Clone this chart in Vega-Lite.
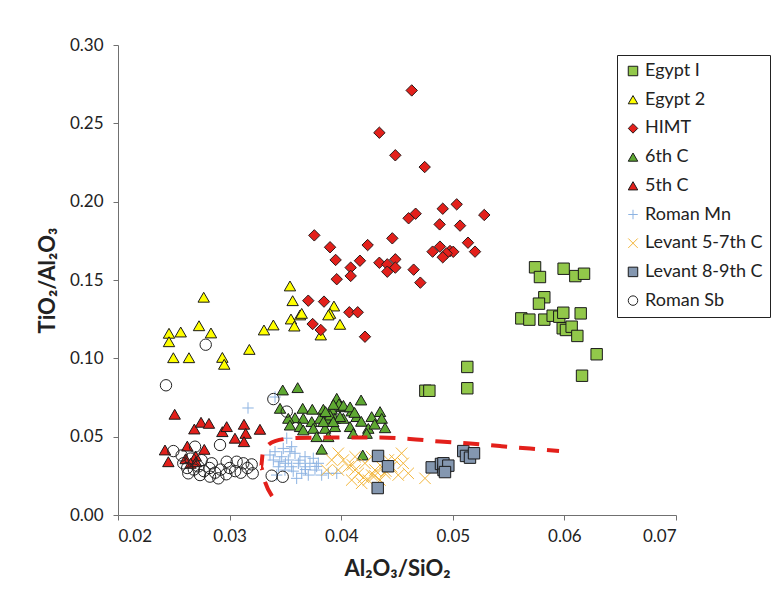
{
  "$schema": "https://vega.github.io/schema/vega-lite/v6.json",
  "autosize": "none",
  "width": 558,
  "height": 470,
  "padding": {"left": 118, "top": 45, "right": 103, "bottom": 82},
  "background": "white",
  "config": {
    "font": "Lato",
    "view": {"stroke": null},
    "axis": {"grid": false, "domainColor": "#707070", "tickColor": "#707070", "tickSize": 5, "labelColor": "#222222", "labelFontSize": 17, "titleColor": "#222222", "titleFontSize": 22, "titleFontWeight": "bold", "labelFont": "Lato", "titleFont": "Lato"},
    "legend": {"labelFont": "Lato"}
  },
  "layer": [
    {
      "data": {"values": [
        {"g":"Egypt I","x":0.05737,"y":0.1581},{"g":"Egypt I","x":0.05781,"y":0.1519},{"g":"Egypt I","x":0.05993,"y":0.1572},{"g":"Egypt I","x":0.06098,"y":0.1525},{"g":"Egypt I","x":0.06176,"y":0.154},{"g":"Egypt I","x":0.0582,"y":0.139},{"g":"Egypt I","x":0.05772,"y":0.1349},{"g":"Egypt I","x":0.05614,"y":0.1255},{"g":"Egypt I","x":0.05686,"y":0.1247},{"g":"Egypt I","x":0.0582,"y":0.1247},{"g":"Egypt I","x":0.05895,"y":0.1272},{"g":"Egypt I","x":0.05954,"y":0.1266},{"g":"Egypt I","x":0.0599,"y":0.1291},{"g":"Egypt I","x":0.06146,"y":0.1287},{"g":"Egypt I","x":0.05985,"y":0.1192},{"g":"Egypt I","x":0.06014,"y":0.1181},{"g":"Egypt I","x":0.06065,"y":0.1202},{"g":"Egypt I","x":0.06116,"y":0.1143},{"g":"Egypt I","x":0.06289,"y":0.1026},{"g":"Egypt I","x":0.06158,"y":0.0889},{"g":"Egypt I","x":0.04754,"y":0.0793},{"g":"Egypt I","x":0.0479,"y":0.0793},{"g":"Egypt I","x":0.0513,"y":0.0809},{"g":"Egypt I","x":0.0513,"y":0.0945},
        {"g":"Egypt 2","x":0.02768,"y":0.139},{"g":"Egypt 2","x":0.02457,"y":0.116},{"g":"Egypt 2","x":0.02562,"y":0.1168},{"g":"Egypt 2","x":0.02726,"y":0.1208},{"g":"Egypt 2","x":0.02833,"y":0.1162},{"g":"Egypt 2","x":0.02457,"y":0.1106},{"g":"Egypt 2","x":0.02496,"y":0.1004},{"g":"Egypt 2","x":0.02636,"y":0.1004},{"g":"Egypt 2","x":0.02935,"y":0.1006},{"g":"Egypt 2","x":0.02952,"y":0.0962},{"g":"Egypt 2","x":0.03177,"y":0.1057},{"g":"Egypt 2","x":0.03308,"y":0.1181},{"g":"Egypt 2","x":0.03392,"y":0.1213},{"g":"Egypt 2","x":0.03541,"y":0.1462},{"g":"Egypt 2","x":0.03565,"y":0.1368},{"g":"Egypt 2","x":0.0355,"y":0.1251},{"g":"Egypt 2","x":0.0358,"y":0.1206},{"g":"Egypt 2","x":0.03631,"y":0.1277},{"g":"Egypt 2","x":0.03646,"y":0.1287},{"g":"Egypt 2","x":0.03935,"y":0.1334},{"g":"Egypt 2","x":0.039,"y":0.1287},{"g":"Egypt 2","x":0.03885,"y":0.1277},{"g":"Egypt 2","x":0.03989,"y":0.1217},{"g":"Egypt 2","x":0.03817,"y":0.1149},
        {"g":"HIMT","x":0.04632,"y":0.271},{"g":"HIMT","x":0.04342,"y":0.244},{"g":"HIMT","x":0.04485,"y":0.2296},{"g":"HIMT","x":0.04748,"y":0.2221},{"g":"HIMT","x":0.05035,"y":0.1983},{"g":"HIMT","x":0.0491,"y":0.1955},{"g":"HIMT","x":0.05282,"y":0.1915},{"g":"HIMT","x":0.04667,"y":0.1923},{"g":"HIMT","x":0.04604,"y":0.1894},{"g":"HIMT","x":0.04882,"y":0.1855},{"g":"HIMT","x":0.05065,"y":0.1847},{"g":"HIMT","x":0.03759,"y":0.1785},{"g":"HIMT","x":0.04458,"y":0.1766},{"g":"HIMT","x":0.05136,"y":0.1738},{"g":"HIMT","x":0.04237,"y":0.1723},{"g":"HIMT","x":0.039,"y":0.1709},{"g":"HIMT","x":0.04885,"y":0.1713},{"g":"HIMT","x":0.05199,"y":0.1681},{"g":"HIMT","x":0.04819,"y":0.1681},{"g":"HIMT","x":0.04975,"y":0.1685},{"g":"HIMT","x":0.05004,"y":0.168},{"g":"HIMT","x":0.04944,"y":0.167},{"g":"HIMT","x":0.0491,"y":0.1645},{"g":"HIMT","x":0.0395,"y":0.1628},{"g":"HIMT","x":0.04168,"y":0.1623},{"g":"HIMT","x":0.04342,"y":0.161},{"g":"HIMT","x":0.04413,"y":0.16},{"g":"HIMT","x":0.04485,"y":0.1632},{"g":"HIMT","x":0.04485,"y":0.1579},{"g":"HIMT","x":0.04413,"y":0.1553},{"g":"HIMT","x":0.04085,"y":0.1579},{"g":"HIMT","x":0.04085,"y":0.1526},{"g":"HIMT","x":0.0396,"y":0.1505},{"g":"HIMT","x":0.04649,"y":0.1566},{"g":"HIMT","x":0.04709,"y":0.1483},{"g":"HIMT","x":0.03705,"y":0.1368},{"g":"HIMT","x":0.03846,"y":0.1362},{"g":"HIMT","x":0.04073,"y":0.1294},{"g":"HIMT","x":0.04148,"y":0.1294},{"g":"HIMT","x":0.03744,"y":0.1219},{"g":"HIMT","x":0.03817,"y":0.1181},{"g":"HIMT","x":0.04213,"y":0.1138},
        {"g":"6th C","x":0.03476,"y":0.0798},{"g":"6th C","x":0.0361,"y":0.0813},{"g":"6th C","x":0.03452,"y":0.0681},{"g":"6th C","x":0.03655,"y":0.0681},{"g":"6th C","x":0.03741,"y":0.0675},{"g":"6th C","x":0.0384,"y":0.0675},{"g":"6th C","x":0.03915,"y":0.0675},{"g":"6th C","x":0.0396,"y":0.0745},{"g":"6th C","x":0.04004,"y":0.0691},{"g":"6th C","x":0.04094,"y":0.0664},{"g":"6th C","x":0.04178,"y":0.0734},{"g":"6th C","x":0.03586,"y":0.0621},{"g":"6th C","x":0.0366,"y":0.0617},{"g":"6th C","x":0.03736,"y":0.0596},{"g":"6th C","x":0.0381,"y":0.0617},{"g":"6th C","x":0.0387,"y":0.0617},{"g":"6th C","x":0.03944,"y":0.0617},{"g":"6th C","x":0.04019,"y":0.0617},{"g":"6th C","x":0.04138,"y":0.0628},{"g":"6th C","x":0.04273,"y":0.0628},{"g":"6th C","x":0.04348,"y":0.066},{"g":"6th C","x":0.04363,"y":0.0617},{"g":"6th C","x":0.03526,"y":0.0617},{"g":"6th C","x":0.03541,"y":0.0574},{"g":"6th C","x":0.03631,"y":0.0564},{"g":"6th C","x":0.0375,"y":0.0553},{"g":"6th C","x":0.03855,"y":0.0553},{"g":"6th C","x":0.03944,"y":0.0564},{"g":"6th C","x":0.04079,"y":0.0564},{"g":"6th C","x":0.04243,"y":0.0553},{"g":"6th C","x":0.04393,"y":0.0557},{"g":"6th C","x":0.03884,"y":0.05},{"g":"6th C","x":0.04108,"y":0.0521},{"g":"6th C","x":0.04228,"y":0.0521},{"g":"6th C","x":0.0378,"y":0.05},{"g":"6th C","x":0.0366,"y":0.0543},{"g":"6th C","x":0.039,"y":0.0638},{"g":"6th C","x":0.03989,"y":0.0628},{"g":"6th C","x":0.0384,"y":0.0596},{"g":"6th C","x":0.03929,"y":0.0596},{"g":"6th C","x":0.03825,"y":0.042},{"g":"6th C","x":0.04193,"y":0.0383},{"g":"6th C","x":0.0398,"y":0.071},{"g":"6th C","x":0.0402,"y":0.07},{"g":"6th C","x":0.0393,"y":0.0706},{"g":"6th C","x":0.0386,"y":0.066},{"g":"6th C","x":0.0408,"y":0.069},{"g":"6th C","x":0.0412,"y":0.0655},{"g":"6th C","x":0.0418,"y":0.0598},{"g":"6th C","x":0.043,"y":0.058},
        {"g":"5th C","x":0.02508,"y":0.0643},{"g":"5th C","x":0.02684,"y":0.0549},{"g":"5th C","x":0.02744,"y":0.0592},{"g":"5th C","x":0.02815,"y":0.0585},{"g":"5th C","x":0.02935,"y":0.0532},{"g":"5th C","x":0.02974,"y":0.0564},{"g":"5th C","x":0.03129,"y":0.0579},{"g":"5th C","x":0.03144,"y":0.0521},{"g":"5th C","x":0.03048,"y":0.049},{"g":"5th C","x":0.03129,"y":0.0468},{"g":"5th C","x":0.03272,"y":0.0547},{"g":"5th C","x":0.02421,"y":0.0415},{"g":"5th C","x":0.02451,"y":0.034},{"g":"5th C","x":0.02621,"y":0.044},{"g":"5th C","x":0.02696,"y":0.0377},{"g":"5th C","x":0.02773,"y":0.0419},{"g":"5th C","x":0.02606,"y":0.0359},{"g":"5th C","x":0.0265,"y":0.033},{"g":"5th C","x":0.027,"y":0.034},
        {"g":"Roman Mn","x":0.03165,"y":0.0683},{"g":"Roman Mn","x":0.03407,"y":0.0753},{"g":"Roman Mn","x":0.03512,"y":0.049},{"g":"Roman Mn","x":0.03362,"y":0.0383},{"g":"Roman Mn","x":0.03407,"y":0.0404},{"g":"Roman Mn","x":0.03467,"y":0.0372},{"g":"Roman Mn","x":0.03526,"y":0.0351},{"g":"Roman Mn","x":0.03586,"y":0.0394},{"g":"Roman Mn","x":0.03556,"y":0.0308},{"g":"Roman Mn","x":0.03616,"y":0.033},{"g":"Roman Mn","x":0.03676,"y":0.0308},{"g":"Roman Mn","x":0.0372,"y":0.033},{"g":"Roman Mn","x":0.03765,"y":0.0287},{"g":"Roman Mn","x":0.03437,"y":0.0308},{"g":"Roman Mn","x":0.03496,"y":0.0287},{"g":"Roman Mn","x":0.03646,"y":0.0266},{"g":"Roman Mn","x":0.03705,"y":0.0255},{"g":"Roman Mn","x":0.03825,"y":0.0255},{"g":"Roman Mn","x":0.03885,"y":0.0266},{"g":"Roman Mn","x":0.0396,"y":0.0266},{"g":"Roman Mn","x":0.03556,"y":0.0436},{"g":"Roman Mn","x":0.03392,"y":0.0351},{"g":"Roman Mn","x":0.03601,"y":0.0234},{"g":"Roman Mn","x":0.03795,"y":0.033},{"g":"Roman Mn","x":0.03541,"y":0.0404},{"g":"Roman Mn","x":0.03481,"y":0.0425},{"g":"Roman Mn","x":0.03676,"y":0.0372},{"g":"Roman Mn","x":0.0375,"y":0.0362},{"g":"Roman Mn","x":0.03422,"y":0.0255},{"g":"Roman Mn","x":0.035,"y":0.033},{"g":"Roman Mn","x":0.0357,"y":0.028},{"g":"Roman Mn","x":0.0363,"y":0.035},{"g":"Roman Mn","x":0.0368,"y":0.029},{"g":"Roman Mn","x":0.0378,"y":0.031},{"g":"Roman Mn","x":0.0345,"y":0.034},
        {"g":"Levant 5-7th C","x":0.03915,"y":0.0351},{"g":"Levant 5-7th C","x":0.03974,"y":0.0287},{"g":"Levant 5-7th C","x":0.04064,"y":0.0308},{"g":"Levant 5-7th C","x":0.04124,"y":0.0372},{"g":"Levant 5-7th C","x":0.04154,"y":0.0266},{"g":"Levant 5-7th C","x":0.04213,"y":0.033},{"g":"Levant 5-7th C","x":0.04243,"y":0.0223},{"g":"Levant 5-7th C","x":0.04303,"y":0.0287},{"g":"Levant 5-7th C","x":0.04348,"y":0.0223},{"g":"Levant 5-7th C","x":0.04392,"y":0.0266},{"g":"Levant 5-7th C","x":0.04452,"y":0.0308},{"g":"Levant 5-7th C","x":0.04511,"y":0.0255},{"g":"Levant 5-7th C","x":0.04556,"y":0.033},{"g":"Levant 5-7th C","x":0.04601,"y":0.0266},{"g":"Levant 5-7th C","x":0.04751,"y":0.0234},{"g":"Levant 5-7th C","x":0.04094,"y":0.0223},{"g":"Levant 5-7th C","x":0.04183,"y":0.0202},{"g":"Levant 5-7th C","x":0.04019,"y":0.0351},{"g":"Levant 5-7th C","x":0.0387,"y":0.0287},{"g":"Levant 5-7th C","x":0.04273,"y":0.0372},{"g":"Levant 5-7th C","x":0.04422,"y":0.0351},{"g":"Levant 5-7th C","x":0.04273,"y":0.0255},{"g":"Levant 5-7th C","x":0.04363,"y":0.0308},{"g":"Levant 5-7th C","x":0.04124,"y":0.0287},{"g":"Levant 5-7th C","x":0.04482,"y":0.0351},{"g":"Levant 5-7th C","x":0.03974,"y":0.0394},{"g":"Levant 5-7th C","x":0.04541,"y":0.0394},{"g":"Levant 5-7th C","x":0.042,"y":0.024},{"g":"Levant 5-7th C","x":0.043,"y":0.025},{"g":"Levant 5-7th C","x":0.041,"y":0.032},{"g":"Levant 5-7th C","x":0.044,"y":0.028},
        {"g":"Levant 8-9th C","x":0.0433,"y":0.0377},{"g":"Levant 8-9th C","x":0.04419,"y":0.0311},{"g":"Levant 8-9th C","x":0.04327,"y":0.0172},{"g":"Levant 8-9th C","x":0.04811,"y":0.0304},{"g":"Levant 8-9th C","x":0.04894,"y":0.0326},{"g":"Levant 8-9th C","x":0.0493,"y":0.0308},{"g":"Levant 8-9th C","x":0.04917,"y":0.0287},{"g":"Levant 8-9th C","x":0.04916,"y":0.033},{"g":"Levant 8-9th C","x":0.0496,"y":0.0315},{"g":"Levant 8-9th C","x":0.0493,"y":0.0274},{"g":"Levant 8-9th C","x":0.05094,"y":0.0408},{"g":"Levant 8-9th C","x":0.05118,"y":0.0377},{"g":"Levant 8-9th C","x":0.05154,"y":0.0366},{"g":"Levant 8-9th C","x":0.0519,"y":0.0394},
        {"g":"Roman Sb","x":0.0243,"y":0.0828},{"g":"Roman Sb","x":0.02786,"y":0.1087},{"g":"Roman Sb","x":0.03392,"y":0.074},{"g":"Roman Sb","x":0.03512,"y":0.066},{"g":"Roman Sb","x":0.02496,"y":0.0408},{"g":"Roman Sb","x":0.02914,"y":0.0447},{"g":"Roman Sb","x":0.02974,"y":0.034},{"g":"Roman Sb","x":0.03063,"y":0.034},{"g":"Roman Sb","x":0.03123,"y":0.033},{"g":"Roman Sb","x":0.03198,"y":0.0323},{"g":"Roman Sb","x":0.03207,"y":0.0266},{"g":"Roman Sb","x":0.03377,"y":0.0251},{"g":"Roman Sb","x":0.03476,"y":0.0244},{"g":"Roman Sb","x":0.0263,"y":0.0266},{"g":"Roman Sb","x":0.02735,"y":0.0255},{"g":"Roman Sb","x":0.02824,"y":0.0245},{"g":"Roman Sb","x":0.02899,"y":0.0234},{"g":"Roman Sb","x":0.02585,"y":0.033},{"g":"Roman Sb","x":0.0269,"y":0.0436},{"g":"Roman Sb","x":0.0262,"y":0.03},{"g":"Roman Sb","x":0.0268,"y":0.029},{"g":"Roman Sb","x":0.0272,"y":0.031},{"g":"Roman Sb","x":0.0277,"y":0.028},{"g":"Roman Sb","x":0.0282,"y":0.03},{"g":"Roman Sb","x":0.0287,"y":0.027},{"g":"Roman Sb","x":0.0292,"y":0.029},{"g":"Roman Sb","x":0.0297,"y":0.026},{"g":"Roman Sb","x":0.03,"y":0.03},{"g":"Roman Sb","x":0.0305,"y":0.028},{"g":"Roman Sb","x":0.031,"y":0.027},{"g":"Roman Sb","x":0.0316,"y":0.03},{"g":"Roman Sb","x":0.0257,"y":0.038},{"g":"Roman Sb","x":0.0265,"y":0.036},{"g":"Roman Sb","x":0.0275,"y":0.035},{"g":"Roman Sb","x":0.0284,"y":0.033}
      ]},
      "mark": {"type": "point", "filled": true, "size": 130, "strokeWidth": 1, "opacity": 1},
      "encoding": {
        "x": {"field": "x", "type": "quantitative", "scale": {"domain": [0.02, 0.07], "nice": false, "zero": false}, "axis": {"title": "Al₂O₃/SiO₂", "values": [0.02, 0.03, 0.04, 0.05, 0.06, 0.07], "format": ".2f", "labelPadding": 8, "titlePadding": 14}},
        "y": {"field": "y", "type": "quantitative", "scale": {"domain": [0, 0.3], "nice": false}, "axis": {"title": "TiO₂/Al₂O₃", "values": [0, 0.05, 0.1, 0.15, 0.2, 0.25, 0.3], "format": ".2f", "labelPadding": 10, "titlePadding": 10}},
        "fill": {"field": "g", "type": "nominal", "scale": {"domain": ["Egypt I", "Egypt 2", "HIMT", "6th C", "5th C", "Roman Mn", "Levant 5-7th C", "Levant 8-9th C", "Roman Sb"], "range": ["#92c84a", "#ffff00", "#e3201b", "#5ea832", "#e3201b", "transparent", "transparent", "#8497b0", "transparent"]}, "legend": {"title": null, "orient": "none", "legendX": 499, "legendY": 10, "strokeColor": "#222222", "fillColor": "white", "padding": 7, "rowPadding": 10.7, "labelFontSize": 18, "labelColor": "#222222", "symbolSize": 90, "symbolStrokeWidth": 1, "labelOffset": 3, "labelLimit": 300}},
        "stroke": {"field": "g", "type": "nominal", "scale": {"domain": ["Egypt I", "Egypt 2", "HIMT", "6th C", "5th C", "Roman Mn", "Levant 5-7th C", "Levant 8-9th C", "Roman Sb"], "range": ["#1a1a1a", "#1a1a1a", "#2a1a1a", "#1a1a1a", "#1a1a1a", "#8db3e2", "#f3b63b", "#1a1a1a", "#222222"]}, "legend": {"title": null, "orient": "none", "legendX": 499, "legendY": 10}},
        "shape": {"field": "g", "type": "nominal", "scale": {"domain": ["Egypt I", "Egypt 2", "HIMT", "6th C", "5th C", "Roman Mn", "Levant 5-7th C", "Levant 8-9th C", "Roman Sb"], "range": ["square", "triangle-up", "diamond", "triangle-up", "triangle-up", "M-1,0H1M0,-1V1", "M-1,-1L1,1M-1,1L1,-1", "square", "circle"]}, "legend": {"title": null, "orient": "none", "legendX": 499, "legendY": 10}}
      }
    },
    {
      "data": {"values": [
        {"i":1,"x":0.0338,"y":0.0121},{"i":2,"x":0.03317,"y":0.0211},{"i":3,"x":0.03281,"y":0.0306},{"i":4,"x":0.03299,"y":0.0402},{"i":5,"x":0.03407,"y":0.0472},{"i":6,"x":0.03586,"y":0.0491},{"i":7,"x":0.039,"y":0.0495},{"i":8,"x":0.04348,"y":0.0495},{"i":9,"x":0.04616,"y":0.0485},{"i":10,"x":0.04885,"y":0.0469},{"i":11,"x":0.05154,"y":0.0456},{"i":12,"x":0.05423,"y":0.044},{"i":13,"x":0.05692,"y":0.0424},{"i":14,"x":0.05952,"y":0.0409}
      ]},
      "mark": {"type": "line", "color": "#e3201b", "strokeWidth": 4, "strokeDash": [16, 12], "interpolate": "monotone"},
      "encoding": {
        "x": {"field": "x", "type": "quantitative"},
        "y": {"field": "y", "type": "quantitative"},
        "order": {"field": "i", "type": "quantitative"}
      }
    }
  ]
}
